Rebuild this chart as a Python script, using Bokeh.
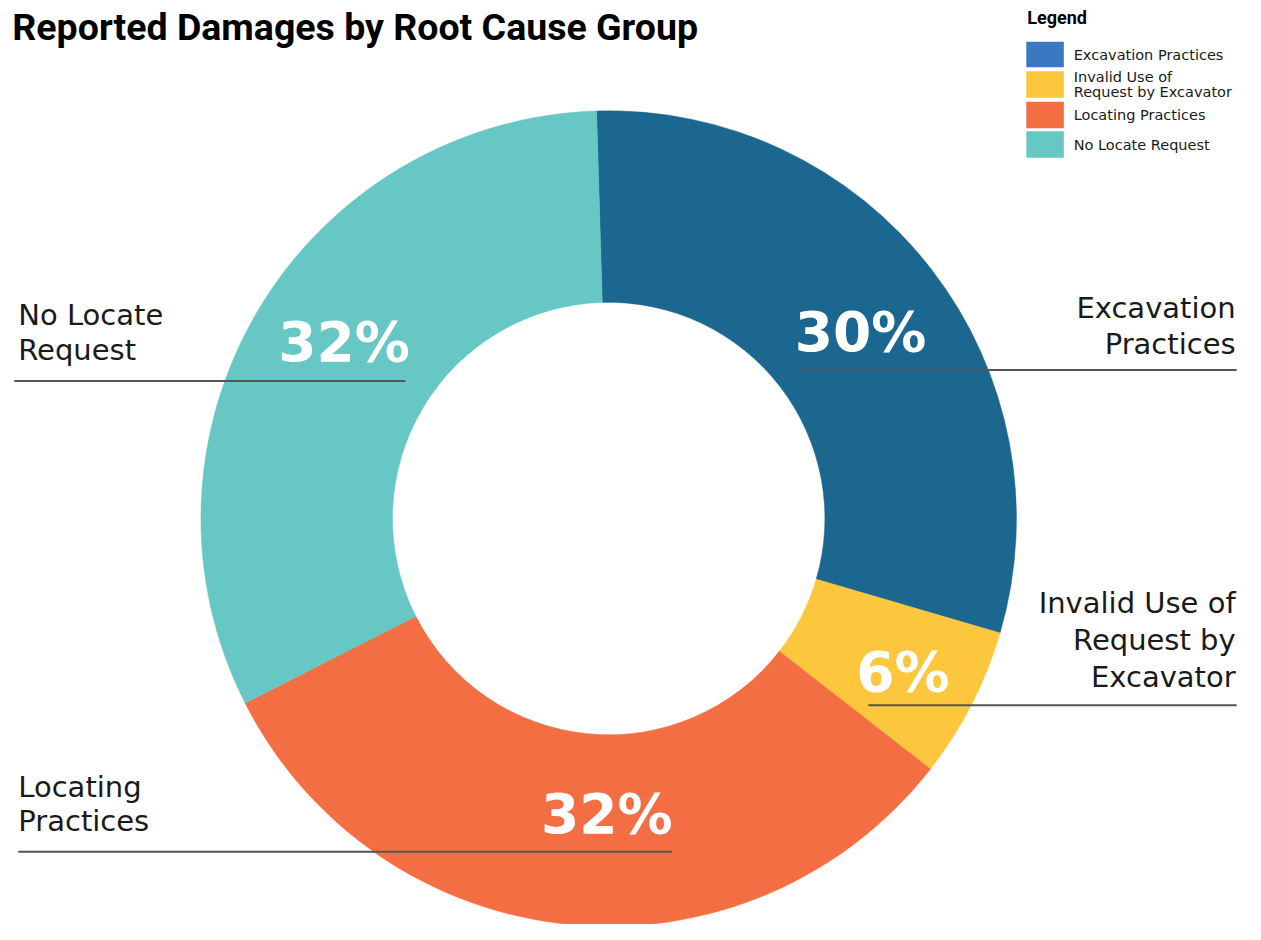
import math
from bokeh.plotting import figure
from bokeh.models import Range1d, ColumnDataSource
from bokeh.embed import file_html
from bokeh.resources import INLINE
from bokeh.core.properties import value

# ---- data ----
categories = ["Excavation Practices", "Invalid Use of Request by Excavator",
              "Locating Practices", "No Locate Request"]
shares = [30, 6, 32, 32]
pct_labels = ["30%", "6%", "32%", "32%"]
slice_colors = ["#1b6790", "#fdc73d", "#f36f43", "#66c7c5"]
legend_colors = ["#3b78c2", "#fdc73d", "#f36f43", "#66c7c5"]
legend_lines = [["Excavation Practices"], ["Invalid Use of", "Request by Excavator"],
                ["Locating Practices"], ["No Locate Request"]]
callout_lines = [["Excavation", "Practices"], ["Invalid Use of", "Request by", "Excavator"],
                 ["Locating", "Practices"], ["No Locate", "Request"]]
title_text = "Reported Damages by Root Cause Group"

# ---- layout (reference pixel coordinates) ----
W, H = 1245, 924
REF_W, REF_H = 1261, 940
CX, CY = 616, 527
R_IN, R_OUT = 219, 413
START_DEG = 91.7
pct_pos = [(871, 337), (914, 683), (614, 828), (348, 347)]
callout_layout = [  # x, align, first-line y, step, underline (x0, x1, y)
    (1251, "right", 313, 36, (808, 1252, 376)),
    (1251, "right", 613, 37.5, (879, 1252, 717)),
    (18, "left", 800, 35, (18, 680, 866)),
    (18, "left", 320, 36, (14, 410, 387)),
]
legend_rows = [(42, 68), (72, 99), (103, 130), (133, 160)]

p = figure(width=W, height=H, x_range=Range1d(0, REF_W), y_range=Range1d(-REF_H, 0),
           output_backend="svg", toolbar_location=None, min_border=0,
           x_axis_type=None, y_axis_type=None)
p.grid.visible = False
p.outline_line_color = None
p.background_fill_color = "white"

# donut
total = float(sum(shares))
starts, ends = [], []
acc = 0.0
for s in shares:
    a0 = math.radians(START_DEG) - acc / total * 2 * math.pi
    a1 = a0 - s / total * 2 * math.pi
    starts.append(a0)
    ends.append(a1)
    acc += s
src = ColumnDataSource(dict(x=[CX] * len(shares), y=[-CY] * len(shares),
                            start=starts, end=ends, color=slice_colors, cat=categories))
p.annular_wedge(x="x", y="y", inner_radius=R_IN, outer_radius=R_OUT,
                start_angle="start", end_angle="end", direction="clock",
                fill_color="color", line_color="color", line_width=0.5, source=src)

# percentage labels
p.text(x=[q[0] for q in pct_pos], y=[-q[1] for q in pct_pos], text=pct_labels,
       text_color="white", text_font=value("DejaVu Sans"), text_font_style="bold",
       text_font_size="55px", text_align="center", text_baseline="middle")

# callouts
for lines, (x, align, y0, step, (ux0, ux1, uy)) in zip(callout_lines, callout_layout):
    p.text(x=[x] * len(lines), y=[-(y0 + i * step) for i in range(len(lines))], text=lines,
           text_color="#1a1a1a", text_font=value("DejaVu Sans"), text_font_size="29px",
           text_align=align, text_baseline="middle")
    p.segment(x0=[ux0], y0=[-uy], x1=[ux1], y1=[-uy], line_color="#555555", line_width=2)

# title
p.text(x=[12], y=[-27], text=[title_text], text_color="black", text_font=value("Roboto"),
       text_font_style="bold", text_font_size="37.5px", text_align="left", text_baseline="middle")

# legend
p.text(x=[1040], y=[-17], text=["Legend"], text_color="black", text_font=value("Roboto"),
       text_font_style="bold", text_font_size="18px", text_align="left", text_baseline="middle")
p.quad(left=[1039] * 4, right=[1077] * 4, top=[-r[0] for r in legend_rows],
       bottom=[-r[1] for r in legend_rows], fill_color=legend_colors, line_color=None)
for lines, (t, b) in zip(legend_lines, legend_rows):
    mid = (t + b) / 2
    n = len(lines)
    ys = [-(mid + (i - (n - 1) / 2) * 15) for i in range(n)]
    p.text(x=[1087] * n, y=ys, text=lines, text_color="#1a1a1a",
           text_font=value("DejaVu Sans"), text_font_size="14.5px",
           text_align="left", text_baseline="middle")

open("out.html", "w").write(file_html(p, INLINE))
